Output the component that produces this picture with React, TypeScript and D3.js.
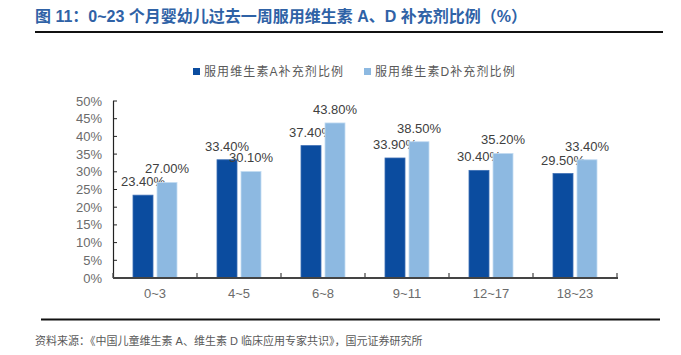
import React from "react";
import * as d3 from "d3";

const categories = ["0~3", "4~5", "6~8", "9~11", "12~17", "18~23"];
const seriesNames = ["服用维生素A补充剂比例", "服用维生素D补充剂比例"];
const vitaminA = [23.4, 33.4, 37.4, 33.9, 30.4, 29.5];
const vitaminD = [27.0, 30.1, 43.8, 38.5, 35.2, 33.4];
const yTicks = [0, 5, 10, 15, 20, 25, 30, 35, 40, 45, 50];
const title = "图 11：0~23 个月婴幼儿过去一周服用维生素 A、D 补充剂比例（%）";
const source = "资料来源：《中国儿童维生素 A、维生素 D 临床应用专家共识》，国元证券研究所";

const W = 681;
const H = 355;
const colors = ["#0B4C9F", "#8DB9E1"];
const sans = "'Liberation Sans', Arial, 'Noto Sans CJK SC', sans-serif";
const cjk = "'Liberation Sans', 'Noto Sans CJK SC', sans-serif";

export default function App() {
  const x0 = d3.scaleBand<string>().domain(categories).range([113, 617]).paddingInner(0).paddingOuter(0);
  const bw = x0.bandwidth();
  const x1 = d3.scaleBand<string>().domain(["A", "D"]).range([(bw - 44) / 2, (bw + 44) / 2]).paddingInner(4 / 24).paddingOuter(0);
  const y = d3.scaleLinear().domain([0, 50]).range([278, 101]);
  const series = [vitaminA, vitaminD];
  const keys = ["A", "D"];
  const boundaries = d3.range(categories.length + 1).map((i) => 113 + i * bw);

  return (
    <div style={{ position: "absolute", left: 0, top: 0, width: W, height: H, background: "#fff" }}>
      <svg width={W} height={H} style={{ display: "block" }}>
        <rect width={W} height={H} fill="#fff" />
        <text x={35} y={22} fontFamily={cjk} fontSize={16} fontWeight="bold" fill="#2F62A6">
          {title}
        </text>
        <line x1={35} x2={663} y1={32} y2={32} stroke="#111" strokeWidth={2} />

        {/* legend */}
        {seriesNames.map((name, i) => {
          const lx = i === 0 ? 193 : 364;
          return (
            <g key={name}>
              <rect x={lx} y={68} width={7} height={7} fill={colors[i]} />
              <text x={lx + 11} y={76} fontFamily={cjk} fontSize={12} letterSpacing={1.1} fill="#595959">
                {name}
              </text>
            </g>
          );
        })}

        {/* y axis */}
        {yTicks.map((t) => (
          <g key={t}>
            <line x1={113} x2={117} y1={y(t)} y2={y(t)} stroke="#222" strokeWidth={1} />
            <text x={102} y={y(t) + 4.5} textAnchor="end" fontFamily={sans} fontSize={13} fill="#6b6b6b">
              {t}%
            </text>
          </g>
        ))}
        <line x1={113.5} x2={113.5} y1={y(50)} y2={y(0)} stroke="#222" strokeWidth={1.2} />

        {/* bars */}
        {categories.map((c, ci) => (
          <g key={c} transform={`translate(${x0(c)},0)`}>
            {series.map((vals, si) => {
              const v = vals[ci];
              const bx = x1(keys[si]) as number;
              return (
                <g key={si}>
                  <rect
                    x={bx}
                    y={y(v)}
                    width={x1.bandwidth()}
                    height={y(0) - y(v)}
                    fill={colors[si]}
                    stroke={si === 0 ? "#3d6fb5" : "#c4dcf2"}
                    strokeWidth={0.8}
                  />
                  <text
                    x={bx + x1.bandwidth() / 2}
                    y={y(v) - 9}
                    textAnchor="middle"
                    fontFamily={sans}
                    fontSize={13}
                    fill="#404040"
                  >
                    {v.toFixed(2)}%
                  </text>
                </g>
              );
            })}
            <text x={bw / 2} y={298} textAnchor="middle" fontFamily={sans} fontSize={13} fill="#6b6b6b">
              {c}
            </text>
          </g>
        ))}

        {/* x axis */}
        <line x1={113} x2={618} y1={278} y2={278} stroke="#444" strokeWidth={1.8} />
        {boundaries.map((b, i) => (
          <line key={i} x1={b} x2={b} y1={278} y2={273} stroke="#444" strokeWidth={1.2} />
        ))}

        {/* footer */}
        <line x1={41} x2={660} y1={319.5} y2={319.5} stroke="#111" strokeWidth={2} />
        <text x={35} y={345} fontFamily={cjk} fontSize={11} fill="#595959">
          {source}
        </text>
      </svg>
    </div>
  );
}
